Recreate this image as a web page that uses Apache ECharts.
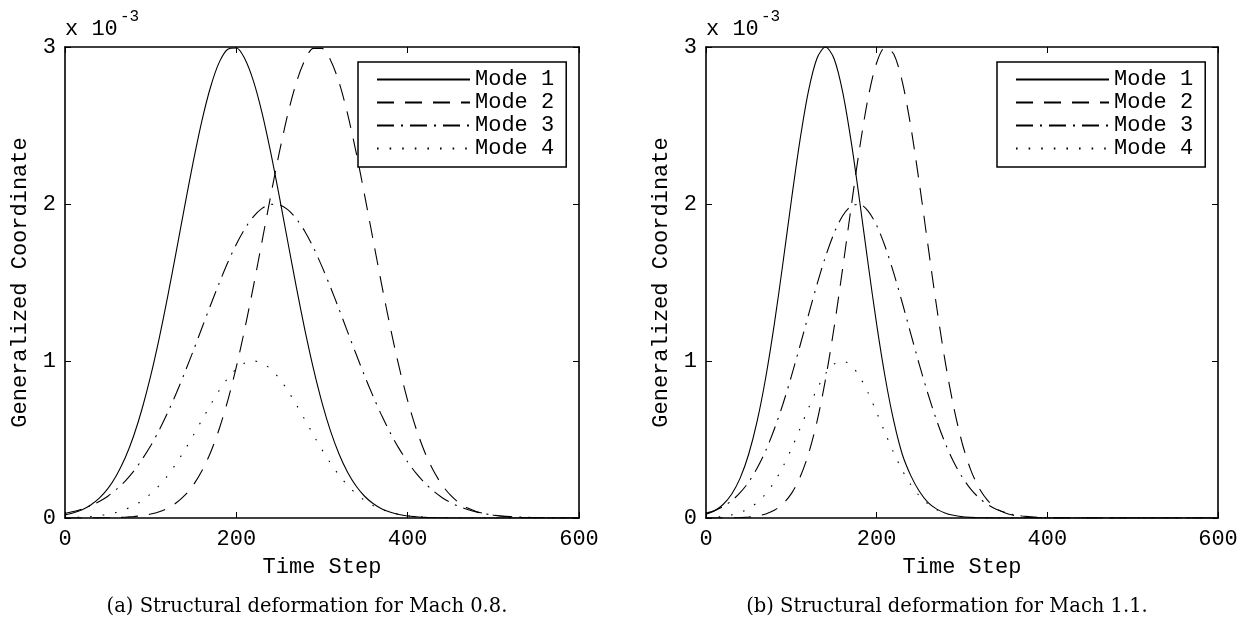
<!DOCTYPE html>
<html><head><meta charset="utf-8">
<script src="https://cdn.jsdelivr.net/npm/echarts@6/dist/echarts.min.js"></script>
<style>html,body{margin:0;padding:0;background:#fff}#c{width:1245px;height:620px}</style>
</head><body><div id="c"></div>
<script>
// ---- data (values in units of 1e-3) ----
const timeSteps = [0,10,20,30,40,50,60,70,80,90,100,110,120,130,140,150,160,170,180,190,200,210,220,230,240,250,260,270,280,290,300,310,320,330,340,350,360,370,380,390,400,410,420,430,440,450,460,470,480,490,500,510,520,530,540,550,560,570,580,590,600];
const xTicks = [0,200,400,600];
const yTicks = [0,1,2,3];
const modeNames = ['Mode 1','Mode 2','Mode 3','Mode 4'];
const xAxisTitle = 'Time Step';
const yAxisTitle = 'Generalized Coordinate';
const scaleBase = 'x 10';
const scaleExp = '-3';
const captions = ['(a) Structural deformation for Mach 0.8.', '(b) Structural deformation for Mach 1.1.'];

const mach08Mode1 = [0.020,0.033,0.053,0.083,0.127,0.187,0.271,0.380,0.521,0.696,0.905,1.146,1.415,1.702,1.995,2.278,2.535,2.747,2.902,2.986,2.994,2.924,2.783,2.581,2.332,2.053,1.761,1.472,1.198,0.951,0.735,0.553,0.406,0.290,0.202,0.137,0.091,0.058,0.037,0.022,0.013,0.008,0.004,0.002,0.001,0,0,0,0,0,0,0,0,0,0,0,0,0,0,0,0];
const mach08Mode2 = [0,0,0,0.001,0.001,0.002,0.003,0.005,0.009,0.015,0.025,0.040,0.063,0.097,0.145,0.212,0.302,0.419,0.567,0.748,0.962,1.208,1.477,1.762,2.049,2.324,2.571,2.773,2.916,2.991,2.991,2.916,2.773,2.571,2.324,2.049,1.762,1.477,1.208,0.962,0.748,0.567,0.419,0.302,0.212,0.145,0.097,0.063,0.042,0.028,0.018,0.011,0.007,0.004,0.002,0.001,0,0,0,0,0];
const mach08Mode3 = [0.029,0.041,0.057,0.078,0.105,0.139,0.182,0.234,0.297,0.373,0.460,0.560,0.673,0.796,0.929,1.069,1.213,1.357,1.496,1.627,1.744,1.843,1.920,1.972,1.998,1.995,1.964,1.906,1.825,1.722,1.601,1.469,1.328,1.184,1.041,0.902,0.771,0.649,0.539,0.442,0.357,0.284,0.223,0.172,0.131,0.099,0.073,0.054,0.039,0.027,0.019,0.013,0.009,0.006,0.004,0.003,0.002,0.001,0.001,0,0];
const mach08Mode4 = [0.002,0.003,0.006,0.009,0.015,0.023,0.036,0.054,0.078,0.111,0.154,0.207,0.272,0.349,0.435,0.529,0.626,0.722,0.812,0.890,0.949,0.987,1.000,0.987,0.949,0.890,0.812,0.722,0.626,0.529,0.435,0.349,0.272,0.207,0.154,0.111,0.078,0.054,0.036,0.023,0.015,0.009,0.006,0.003,0.002,0.001,0,0,0,0,0,0,0,0,0,0,0,0,0,0,0];

const mach11Mode1 = [0.024,0.046,0.086,0.151,0.254,0.406,0.618,0.895,1.233,1.618,2.021,2.402,2.718,2.927,3.000,2.927,2.718,2.402,2.021,1.618,1.233,0.895,0.618,0.406,0.270,0.170,0.100,0.058,0.032,0.017,0.008,0.004,0.002,0.001,0,0,0,0,0,0,0,0,0,0,0,0,0,0,0,0,0,0,0,0,0,0,0,0,0,0,0];
const mach11Mode2 = [0,0,0,0.001,0.003,0.006,0.013,0.026,0.049,0.089,0.155,0.257,0.406,0.612,0.881,1.210,1.584,1.977,2.355,2.676,2.900,2.997,2.955,2.779,2.493,2.133,1.741,1.355,1.006,0.713,0.481,0.310,0.191,0.112,0.062,0.033,0.017,0.008,0.004,0.002,0.001,0,0,0,0,0,0,0,0,0,0,0,0,0,0,0,0,0,0,0,0];
const mach11Mode3 = [0.030,0.047,0.073,0.110,0.161,0.229,0.318,0.429,0.565,0.723,0.902,1.094,1.292,1.486,1.664,1.813,1.924,1.987,1.998,1.955,1.863,1.728,1.560,1.371,1.173,0.977,0.793,0.626,0.481,0.360,0.262,0.186,0.128,0.086,0.056,0.036,0.022,0.013,0.008,0.004,0.002,0.001,0,0,0,0,0,0,0,0,0,0,0,0,0,0,0,0,0,0,0];
const mach11Mode4 = [0.003,0.005,0.010,0.020,0.035,0.060,0.099,0.154,0.229,0.325,0.439,0.567,0.698,0.820,0.918,0.981,1.000,0.972,0.901,0.797,0.672,0.541,0.415,0.304,0.212,0.141,0.090,0.054,0.031,0.017,0.009,0.005,0.002,0.001,0,0,0,0,0,0,0,0,0,0,0,0,0,0,0,0,0,0,0,0,0,0,0,0,0,0,0];

const panelData = [
  [mach08Mode1, mach08Mode2, mach08Mode3, mach08Mode4],
  [mach11Mode1, mach11Mode2, mach11Mode3, mach11Mode4]
];

// ---- styling ----
const MONO = '"Liberation Mono", "Courier New", monospace';
const SERIF = '"DejaVu Serif", "Liberation Serif", serif';
const FS = 22;
const dashes = ['solid', [17, 11], [17, 7, 2, 7], [1.6, 11]];
const grids = [
  {left: 65, top: 47, width: 514, height: 471},
  {left: 706, top: 47, width: 512, height: 471}
];
const legendPos = [{left: 358, top: 62}, {left: 997, top: 62}];
const captionX = [307, 947];

const axisLine = {show: true, onZero: false, lineStyle: {color: '#000', width: 1.6}};
const axisTick = {show: true, inside: true, length: 6, lineStyle: {color: '#000', width: 1}};
const txt = {color: '#000', fontFamily: MONO, fontSize: FS};

const xAxes = [], yAxes = [], series = [], legends = [], graphics = [];
grids.forEach((g, p) => {
  xAxes.push({gridIndex: p, type: 'value', position: 'bottom', min: xTicks[0], max: xTicks[xTicks.length-1], interval: xTicks[1]-xTicks[0],
    axisLine, axisTick, splitLine: {show: false}, axisLabel: Object.assign({margin: 10}, txt),
    name: xAxisTitle, nameLocation: 'middle', nameGap: 38, nameTextStyle: txt});
  xAxes.push({gridIndex: p, type: 'value', position: 'top', min: xTicks[0], max: xTicks[xTicks.length-1], interval: xTicks[1]-xTicks[0],
    axisLine, axisTick, splitLine: {show: false}, axisLabel: {show: false}});
  yAxes.push({gridIndex: p, type: 'value', position: 'left', min: yTicks[0], max: yTicks[yTicks.length-1], interval: yTicks[1]-yTicks[0],
    axisLine, axisTick, splitLine: {show: false}, axisLabel: Object.assign({margin: 9}, txt),
    name: yAxisTitle, nameLocation: 'middle', nameGap: 34, nameRotate: 90, nameTextStyle: txt});
  yAxes.push({gridIndex: p, type: 'value', position: 'right', min: yTicks[0], max: yTicks[yTicks.length-1], interval: yTicks[1]-yTicks[0],
    axisLine, axisTick, splitLine: {show: false}, axisLabel: {show: false}});
  panelData[p].forEach((arr, m) => {
    series.push({type: 'line', name: modeNames[m], xAxisIndex: 2*p, yAxisIndex: 2*p,
      data: timeSteps.map((t, i) => [t, arr[i]]), symbol: 'none', showSymbol: false, silent: true,
      smooth: 0.3,
      lineStyle: {color: '#000', width: 1.1, type: dashes[m], cap: 'butt'},
      itemStyle: {color: 'rgba(0,0,0,0)', borderWidth: 0}});
  });
  legends.push({show: true, orient: 'vertical', left: legendPos[p].left, top: legendPos[p].top,
    data: modeNames, itemWidth: 93, itemHeight: 23, itemGap: 0, padding: [6, 12, 7, 18],
    itemStyle: {color: 'rgba(0,0,0,0)', borderWidth: 0, opacity: 0},
    backgroundColor: '#fff', borderColor: '#000', borderWidth: 1.5, selectedMode: false,
    textStyle: {color: '#000', fontFamily: MONO, fontSize: FS, lineHeight: 23}});
  graphics.push({type: 'text', left: g.left, top: 18, style: {text: scaleBase, font: FS + 'px ' + MONO, fill: '#000'}});
  graphics.push({type: 'text', left: g.left + 55, top: 9, style: {text: scaleExp, font: '16px ' + MONO, fill: '#000'}});
  graphics.push({type: 'text', x: captionX[p], y: 607, style: {text: captions[p], font: '19.5px ' + SERIF, fill: '#000', align: 'center', verticalAlign: 'middle', textAlign: 'center', textVerticalAlign: 'middle'}});
});

const chart = echarts.init(document.getElementById('c'), null, {renderer: 'canvas'});
chart.setOption({
  animation: false,
  backgroundColor: '#fff',
  grid: grids,
  xAxis: xAxes,
  yAxis: yAxes,
  legend: legends,
  series,
  graphic: graphics
});
</script></body></html>
